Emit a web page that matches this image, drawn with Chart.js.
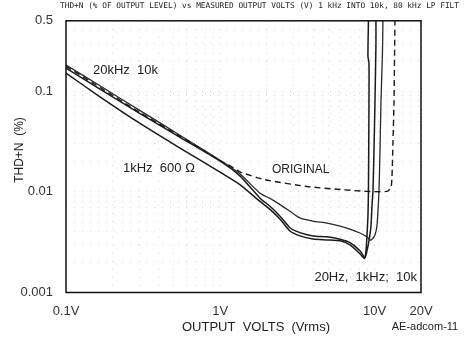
<!DOCTYPE html>
<html><head><meta charset="utf-8">
<script src="https://cdn.jsdelivr.net/npm/chart.js@4.4.1/dist/chart.umd.min.js"></script>
<style>html,body{margin:0;padding:0;background:#fff;}#c{display:block;}</style>
</head><body>
<canvas id="c" width="466" height="341"></canvas>
<script>
// ---- tick labels ----
const xTickValues = [0.1, 1, 10, 20];
const xTickLabels = ['0.1V', '1V', '10V', '20V'];
const yTickValues = [0.001, 0.01, 0.1, 0.5];
const yTickLabels = ['0.001', '0.01', '0.1', '0.5'];

// ---- series (output volts, THD+N %) ----
const volts20k10k = [0.1,0.166,0.302,0.548,1.04,1.34,1.81,2.10,2.44,2.83,3.28,3.99,4.91,5.97,6.93,8.04,8.93,9.34,9.62,10.06,10.36,10.52,10.68,10.84,11.0,11.25,11.33];
const thd20k10k   = [0.182,0.113,0.0641,0.0365,0.0198,0.0151,0.00969,0.0086,0.00746,0.00641,0.00551,0.00512,0.00489,0.00457,0.00427,0.0039,0.00357,0.00333,0.00337,0.00373,0.00457,0.00641,0.0101,0.0248,0.0767,0.237,0.5];

const volts20Hz10k = [0.1,0.166,0.302,0.548,1.04,1.34,1.81,2.10,2.44,2.83,3.28,3.99,4.91,5.97,6.93,8.04,8.67,8.93,9.20,9.48,9.62,9.76,9.91,10.06,10.21,10.21];
const thd20Hz10k   = [0.169,0.105,0.0599,0.0348,0.0194,0.0144,0.00865,0.00718,0.00573,0.0044,0.00393,0.00365,0.00357,0.00338,0.00313,0.0026,0.00222,0.0026,0.00326,0.00457,0.00718,0.0101,0.0248,0.0767,0.297,0.5];

const volts1k600 = [0.1,0.166,0.302,0.548,1.04,1.34,1.81,2.10,2.44,2.83,3.28,3.99,4.91,5.97,6.93,8.04,8.60,8.80,8.93,9.06,9.13,9.20,9.20,9.06,9.13];
const thd1k600   = [0.151,0.0879,0.0478,0.0272,0.0151,0.0118,0.00803,0.0067,0.00535,0.00408,0.00365,0.0034,0.00333,0.00326,0.00298,0.00243,0.00217,0.0026,0.00365,0.00573,0.0101,0.0767,0.189,0.222,0.5];

const voltsOriginal = [0.1,0.166,0.302,0.548,1.04,1.16,1.34,1.95,3.65,5.97,8.93,12.03,12.77,12.97,13.16,13.36,13.56];
const thdOriginal   = [0.177,0.109,0.0613,0.0356,0.0196,0.0181,0.0158,0.0132,0.0113,0.01055,0.0101,0.0101,0.011,0.0141,0.0311,0.0767,0.5];

// grid positions (log minor lines)
const xGridValues = [0.1,0.2,0.3,0.4,0.5,0.6,0.7,0.8,0.9,1,2,3,4,5,6,7,8,9,10,20];
const yGridValues = [0.001,0.002,0.003,0.004,0.005,0.006,0.007,0.008,0.009,0.01,0.02,0.03,0.04,0.05,0.06,0.07,0.08,0.09,0.1,0.2,0.3,0.4,0.5];

const pts = (xs, ys) => xs.map((x, i) => ({x: x, y: ys[i]}));
const findLabel = (v, vals, labels) => {
  for (let i = 0; i < vals.length; i++) if (Math.abs(v - vals[i]) < vals[i] * 1e-6) return labels[i];
  return '';
};

const FONT = '"Liberation Sans", Arial, sans-serif';

const overlay = {
  id: 'overlay',
  afterDraw(chart) {
    const {ctx, chartArea: a} = chart;
    ctx.save();
    ctx.strokeStyle = '#111';
    ctx.lineWidth = 1.5;
    ctx.strokeRect(a.left, a.top, a.right - a.left, a.bottom - a.top);
    ctx.fillStyle = '#222';
    ctx.textBaseline = 'middle';
    // top title
    ctx.font = '7.8px "DejaVu Sans Mono", monospace';
    ctx.textAlign = 'left';
    ctx.fillText('THD+N (% OF OUTPUT LEVEL) vs MEASURED OUTPUT VOLTS (V) 1 kHz INTO 10k, 80 kHz LP FILT', 60, 6);
    // annotations
    ctx.font = '13px ' + FONT;
    ctx.fillText('20kHz  10k', 93, 70);
    ctx.fillText('1kHz  600 \u03A9', 123, 168);
    ctx.font = '12px ' + FONT;
    ctx.fillText('ORIGINAL', 272, 170);
    ctx.font = '13px ' + FONT;
    ctx.textAlign = 'right';
    ctx.fillText('20Hz,  1kHz;  10k', 417, 277);
    // axis titles
    ctx.textAlign = 'center';
    ctx.font = '13px ' + FONT;
    ctx.fillText('OUTPUT  VOLTS  (Vrms)', 256, 327);
    ctx.font = '11px ' + FONT;
    ctx.fillText('AE-adcom-11', 425, 327);
    ctx.save();
    ctx.translate(20, 150);
    ctx.rotate(-Math.PI / 2);
    ctx.font = '12px ' + FONT;
    ctx.fillText('THD+N  (%)', 0, 0);
    ctx.restore();
    ctx.restore();
  }
};

const lineDs = (label, xs, ys, color, width, dash) => ({
  label: label,
  data: pts(xs, ys),
  borderColor: color,
  borderWidth: width,
  borderDash: dash || [],
  pointRadius: 0,
  fill: false,
  tension: 0.2
});

new Chart(document.getElementById('c'), {
  type: 'line',
  data: {
    datasets: [
      lineDs('ORIGINAL', voltsOriginal, thdOriginal, '#1a1a1a', 1.4, [6, 4]),
      lineDs('20kHz 10k', volts20k10k, thd20k10k, '#2a2a2a', 1.3),
      lineDs('20Hz 10k', volts20Hz10k, thd20Hz10k, '#1a1a1a', 1.5),
      lineDs('1kHz 600 \u03A9', volts1k600, thd1k600, '#1a1a1a', 1.5)
    ]
  },
  options: {
    responsive: false,
    animation: false,
    layout: {padding: {top: 17, right: 45, left: 0, bottom: 0}},
    plugins: {legend: {display: false}, tooltip: {enabled: false}, title: {display: false}},
    scales: {
      x: {
        type: 'logarithmic',
        min: 0.1, max: 20,
        afterFit: (s) => { s.height = 48.5; },
        afterBuildTicks: (s) => { s.ticks = xGridValues.map(v => ({value: v})); },
        grid: {color: '#d2d2d2', lineWidth: 1, drawTicks: false},
        border: {display: false, dash: [1, 7]},
        ticks: {
          autoSkip: false, maxRotation: 0, minRotation: 0, padding: 11,
          color: '#333', font: {family: FONT, size: 13},
          callback: (v) => findLabel(v, xTickValues, xTickLabels)
        }
      },
      y: {
        type: 'logarithmic',
        min: 0.001, max: 0.5,
        afterFit: (s) => { s.width = 66; },
        afterBuildTicks: (s) => { s.ticks = yGridValues.map(v => ({value: v})); },
        grid: {color: '#d2d2d2', lineWidth: 1, drawTicks: false},
        border: {display: false, dash: [1, 7]},
        ticks: {
          autoSkip: false, padding: 13,
          color: '#333', font: {family: FONT, size: 13},
          callback: (v) => findLabel(v, yTickValues, yTickLabels)
        }
      }
    }
  },
  plugins: [overlay]
});
</script>
</body></html>
